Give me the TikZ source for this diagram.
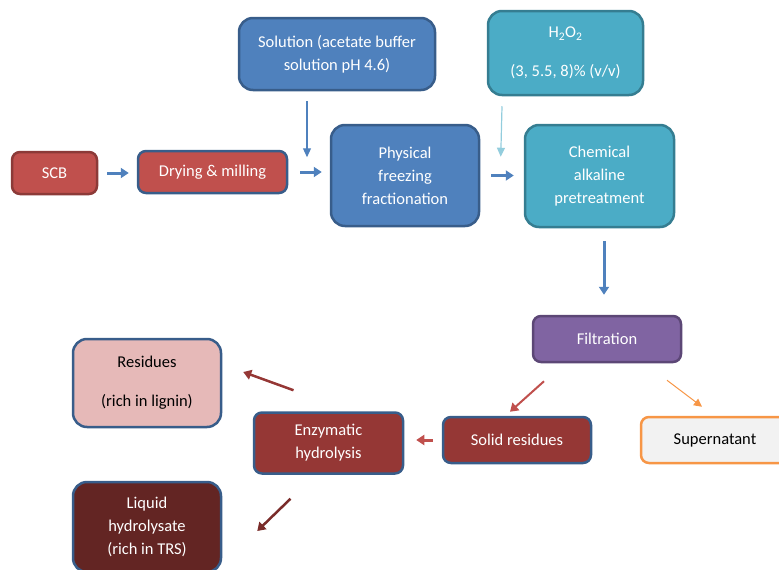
\documentclass[tikz,border=0pt]{standalone}
\usepackage{fontspec}
\setmainfont{Carlito}
\usetikzlibrary{arrows.meta}
\definecolor{redFill}{HTML}{C0504D}
\definecolor{redBorder}{HTML}{8C3A38}
\definecolor{blueFill}{HTML}{4F81BD}
\definecolor{blueBorder}{HTML}{385D8A}
\definecolor{tealFill}{HTML}{4BACC6}
\definecolor{tealBorder}{HTML}{357D91}
\definecolor{tealArrow}{HTML}{93CDDD}
\definecolor{purpleFill}{HTML}{8064A2}
\definecolor{purpleBorder}{HTML}{5C4776}
\definecolor{darkRedFill}{HTML}{953735}
\definecolor{pinkFill}{HTML}{E6B9B8}
\definecolor{brownFill}{HTML}{632523}
\definecolor{brownArrow}{HTML}{7A2C2A}
\definecolor{greyFill}{HTML}{F2F2F2}
\definecolor{orangeBorder}{HTML}{F79646}
\newcommand{\boxFont}{\fontsize{16.5}{23}\selectfont}
\tikzstyle{diagram} = [x = 1pt, y = -1pt, every node/.style={align=center, inner sep=0pt, font=\boxFont}]
\tikzstyle{boxStyle} = [rectangle, rounded corners = 8pt, line width = 2.5pt, text=white, draw=blueBorder]
\tikzstyle{bigBoxStyle} = [boxStyle, rounded corners = 14pt]
\tikzstyle{arrowStyle} = [-{Triangle[length=8pt, width=10pt]}]
\tikzstyle{mainArrow} = [arrowStyle, color=blueFill, line width=3pt]
\tikzstyle{thinArrow} = [-{Triangle[length=9pt, width=8pt]}, line width=1.2pt]
\newcommand{\processBox}[6]{\node [#1, minimum width=#4, minimum height=#5] (#2) at (#3) {#6};}
\begin{document}
\begin{tikzpicture}[diagram]
  \useasboundingbox (0,0) rectangle (779,570);
  \processBox{boxStyle, fill=redFill, draw=redBorder}{scb}{54.5,173}{85}{42}{SCB}
  \processBox{boxStyle, fill=redFill}{drying}{212.5,172}{149}{42}{Drying \& milling}
  \processBox{bigBoxStyle, fill=blueFill}{physical}{405,175.5}{148}{101}{Physical\\freezing\\fractionation}
  \processBox{bigBoxStyle, fill=blueFill}{solution}{337,54}{196}{72}{Solution (acetate buffer\\solution pH 4.6)}
  \processBox{bigBoxStyle, fill=tealFill, draw=tealBorder}{htwoo}{565.5,53}{155}{84}{H\textsubscript{2}O\textsubscript{2}\\[16pt](3, 5.5, 8)\% (v/v)}
  \processBox{bigBoxStyle, fill=tealFill, draw=tealBorder}{chemical}{599.5,176}{149}{102}{Chemical\\alkaline\\pretreatment}
  \processBox{boxStyle, fill=purpleFill, draw=purpleBorder}{filtration}{607,339}{148}{46}{Filtration}
  \processBox{boxStyle, fill=darkRedFill}{solid}{517,440}{148}{46}{Solid residues}
  \processBox{boxStyle, fill=greyFill, draw=orangeBorder, text=black}{supernatant}{715,440}{148}{46}{Supernatant}
  \processBox{boxStyle, fill=darkRedFill}{enzymatic}{328.5,443}{149}{61}{Enzymatic\\hydrolysis}
  \processBox{bigBoxStyle, fill=pinkFill, text=black}{residues}{147,383}{148}{88}{Residues\\[16pt](rich in lignin)}
  \processBox{bigBoxStyle, fill=brownFill}{liquid}{147,527}{148}{90}{Liquid\\hydrolysate\\(rich in TRS)}

  \draw [mainArrow] ([xshift=9]scb.east) -- ([xshift=-8]scb.east -| drying.west);
  \draw [mainArrow] ([xshift=12]drying.east) -- ([xshift=-8]drying.east -| physical.west);
  \draw [mainArrow] ([xshift=11]physical.east) -- ([xshift=-10]physical.east -| chemical.west);
  \draw [thinArrow, color=blueFill] ([shift={(-30,10)}]solution.south) -- ([shift={(-98,-70)}]physical.south);
  \draw [thinArrow, color=tealArrow] ([shift={(-63.5,10)}]htwoo.south) -- ([shift={(-23,33)}]chemical.north west);
  \draw [mainArrow] ([shift={(4.5,13)}]chemical.south) -- ([shift={(-3,-20)}]filtration.north);
  \draw [arrowStyle, color=redFill, line width=2pt] ([shift={(-63,18)}]filtration.south) -- ([shift={(-7,-4)}]solid.north);
  \draw [-{Triangle[length=8pt, width=8pt]}, color=orangeBorder, line width=1pt] ([shift={(60,17)}]filtration.south) -- ([shift={(-13,-9)}]supernatant.north);
  \draw [mainArrow, color=redFill] ([xshift=-9]solid.west) -- ([xshift=12]solid.west -| enzymatic.east);
  \draw [arrowStyle, color=darkRedFill, line width=2.5pt] ([shift={(-35,-21)}]enzymatic.north) -- ([shift={(21,-11)}]residues.east);
  \draw [arrowStyle, color=brownArrow, line width=2.5pt] ([shift={(-38,24)}]enzymatic.south) -- ([shift={(35,4)}]liquid.east);
\end{tikzpicture}
\end{document}
